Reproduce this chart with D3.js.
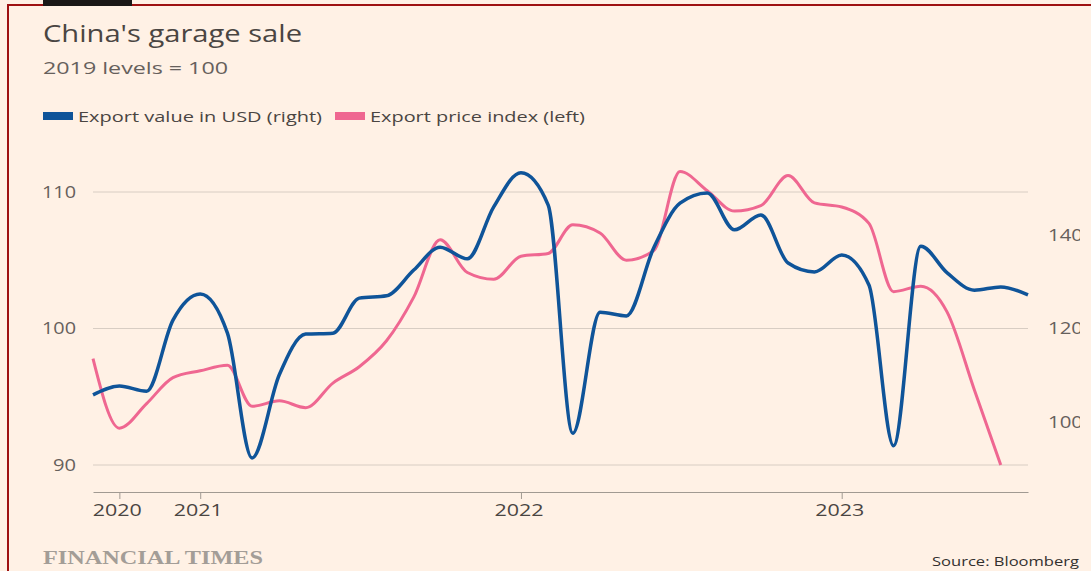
<!DOCTYPE html>
<html>
<head>
<meta charset="utf-8">
<script src="https://cdn.jsdelivr.net/npm/d3@7"></script>
<style>
  html, body { margin: 0; padding: 0; background: #fff1e5; }
  svg { display: block; }
</style>
</head>
<body>
<svg id="chart" width="1091" height="571"></svg>
<script>
// ---- Data (monthly, Sep 2020 – Aug 2023) ----
const startMonth = "2020-09";
const exportValue = [105.8, 107.7, 106.6, 121.8, 127.4, 119.0, 92.3, 110.1, 118.8, 119.0,
  126.5, 127.0, 132.5, 137.4, 134.9, 146.0, 153.3, 146.4, 97.6, 123.5,
  122.7, 137.2, 146.8, 149.0, 141.1, 144.3, 134.0, 132.1, 135.7, 129.3,
  94.9, 137.6, 131.9, 128.2, 128.9, 127.2];            // right axis
const exportPrice = [97.8, 92.7, 94.5, 96.4, 96.9, 97.3, 94.3, 94.7, 94.2, 96.0,
  97.2, 99.1, 102.3, 106.5, 104.1, 103.6, 105.3, 105.5, 107.6, 107.0,
  105.0, 105.7, 111.5, 110.1, 108.6, 109.0, 111.2, 109.2, 108.9, 107.7,
  102.7, 103.1, 101.2, 95.5, 90.0];                      // left axis
const leftTicks = [90, 100, 110];
const rightTicks = [100, 120, 140];
const xTickDates = ["2020-10", "2021-01", "2022-01", "2023-01"];
const xTickLabels = ["2020", "2021", "2022", "2023"];
const seriesNames = ["Export value in USD (right)", "Export price index (left)"];

const parse = d3.timeParse("%Y-%m");
const start = parse(startMonth);
const monthDate = i => d3.timeMonth.offset(start, i);

const svg = d3.select("#chart");
const W = 1091, H = 571;
const bg = "#fff1e5";
const blue = "#0f5499";
const pink = "#ef6791";
const fontSans = "'Open Sans', 'Noto Sans', sans-serif";

svg.append("rect").attr("width", W).attr("height", H).attr("fill", bg);

// Frame
svg.append("rect").attr("x", 8).attr("y", 4).attr("width", W).attr("height", 2).attr("fill", "#9e1111");
svg.append("rect").attr("x", 7).attr("y", 4).attr("width", 2).attr("height", H).attr("fill", "#9e1111");
svg.append("rect").attr("x", 43).attr("y", 0).attr("width", 89).attr("height", 6).attr("fill", "#1a1817");

function txt(sel, s, x, y, size, fill, len) {
  const t = sel.append("text").attr("x", x).attr("y", y).text(s)
    .attr("font-family", fontSans).attr("font-size", size).attr("fill", fill);
  if (len) t.attr("textLength", len).attr("lengthAdjust", "spacingAndGlyphs");
  return t;
}

// Titles
txt(svg, "China's garage sale", 43, 42, 23, "#4a4542", 259);
txt(svg, "2019 levels = 100", 43, 74, 16, "#66605c", 185);

// Legend
const legX = [43, 335];
const legLen = [244, 215];
seriesNames.forEach((n, i) => {
  svg.append("rect").attr("x", legX[i]).attr("y", 112).attr("width", 30).attr("height", 8)
    .attr("fill", i === 0 ? blue : pink);
  txt(svg, n, legX[i] + 35, 122, 15, "#4a4542", legLen[i]);
});

// Scales
const x = d3.scaleTime().domain([start, monthDate(35)]).range([93, 1028]);
const yL = d3.scaleLinear().domain([90, 110]).range([465, 192]);
const yR = d3.scaleLinear().domain([100, 140]).range([422, 235]);

// Gridlines
svg.append("g").selectAll("line").data(leftTicks).join("line")
  .attr("x1", 93).attr("x2", 1028)
  .attr("y1", d => yL(d)).attr("y2", d => yL(d))
  .attr("stroke", "#d8cdc3").attr("stroke-width", 1);

// Left axis labels
leftTicks.forEach(d => {
  const s = String(d);
  txt(svg, s, 76, yL(d) + 5.5, 15.5, "#66605c", s.length === 3 ? 34 : 23).attr("text-anchor", "end");
});

// Right axis labels (clipped at content edge)
svg.append("clipPath").attr("id", "rclip").append("rect").attr("x", 0).attr("y", 0).attr("width", 1080).attr("height", H);
const rg = svg.append("g").attr("clip-path", "url(#rclip)");
rightTicks.forEach(d => {
  txt(rg, String(d), 1048, yR(d) + 5.5, 15.5, "#66605c", 35);
});

// X axis
const xAxis = d3.axisBottom(x)
  .tickValues(xTickDates.map(parse))
  .tickFormat("")
  .tickSize(7).tickSizeOuter(0);
const gx = svg.append("g").attr("transform", "translate(0,492)").call(xAxis);
gx.select(".domain").attr("stroke", "#a19a92").attr("stroke-width", 1.2);
gx.selectAll(".tick line").attr("stroke", "#a19a92");
xTickDates.forEach((d, i) => {
  txt(svg, xTickLabels[i], x(parse(d)) - 2, 516, 16, "#4a4542", 49).attr("text-anchor", "middle");
});

// Lines
const line = (ys) => d3.line().x((d, i) => x(monthDate(i))).y(d => ys(d)).curve(d3.curveMonotoneX);
svg.append("path").datum(exportPrice).attr("d", line(yL)).attr("fill", "none")
  .attr("stroke", pink).attr("stroke-width", 3).attr("stroke-linejoin", "round");
svg.append("path").datum(exportValue).attr("d", line(yR)).attr("fill", "none")
  .attr("stroke", blue).attr("stroke-width", 3.5).attr("stroke-linejoin", "round");

// Footer
svg.append("text").attr("x", 43).attr("y", 564).text("FINANCIAL TIMES")
  .attr("font-family", "'Liberation Serif', 'DejaVu Serif', serif").attr("font-size", 18)
  .attr("font-weight", "bold").attr("fill", "#a39d97")
  .attr("textLength", 220).attr("lengthAdjust", "spacingAndGlyphs");
txt(svg, "Source: Bloomberg", 1079, 566, 13.5, "#33302e", 147).attr("text-anchor", "end");
</script>
</body>
</html>
